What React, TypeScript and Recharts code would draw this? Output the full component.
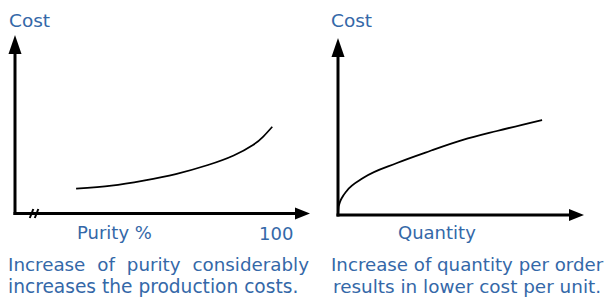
import React from 'react'
import { LineChart, Line, XAxis, YAxis, ReferenceDot } from 'recharts'

// left panel: purity vs cost (x axis starts after a break)
const purity = [69.5, 75, 80, 85, 90, 94, 97, 98.6, 100]
const purityCost = [15.4, 17.3, 20.4, 24.4, 30, 35.9, 42.4, 47.6, 53.7]
const purityTicks = [100]

// right panel: quantity vs cost
const quantity = [0, 0.2, 0.45, 0.85, 1.7, 3.8, 10.7, 25.2, 39.3, 53.4, 67.9, 87.2]
const quantityCost = [0, 4.6, 6.3, 8.2, 10.8, 15.2, 23.1, 32.5, 40, 46.9, 52.5, 59.4]

const purityData = purity.map((x, i) => ({ x, cost: purityCost[i] }))
const quantityData = quantity.map((x, i) => ({ x, cost: quantityCost[i] }))

const BLUE = '#3468a8'
const FONT = '"DejaVu Sans", "Noto Sans", sans-serif'

const axisLine = { stroke: '#000', strokeWidth: 3, strokeLinecap: 'square' as const }

const ArrowRight = (p: any) => (
  <polygon points={`${p.cx - 3},${p.cy - 6} ${p.cx + 12},${p.cy} ${p.cx - 3},${p.cy + 6}`} fill="#000" />
)
const ArrowUp = (p: any) => (
  <polygon points={`${p.cx - 6.5},${p.cy + 2} ${p.cx},${p.cy - 17} ${p.cx + 6.5},${p.cy + 2}`} fill="#000" />
)
const Break = (p: any) => (
  <g stroke="#000" strokeWidth={2}>
    <line x1={p.cx - 4.5} y1={p.cy + 4.5} x2={p.cx - 1} y2={p.cy - 4.5} />
    <line x1={p.cx + 0.5} y1={p.cy + 4.5} x2={p.cx + 4} y2={p.cy - 4.5} />
  </g>
)

const text = (left: number, top: number, s: string, extra: React.CSSProperties = {}) => (
  <div style={{ position: 'absolute', left, top, color: BLUE, fontSize: 18, lineHeight: '22px', whiteSpace: 'nowrap', ...extra }}>
    {s}
  </div>
)

export default function App() {
  return (
    <div style={{ position: 'absolute', left: 0, top: 0, width: 604, height: 299, background: '#fff', fontFamily: FONT, overflow: 'hidden' }}>
      <div style={{ position: 'absolute', left: 0, top: 0 }}>
        <LineChart width={310} height={299} data={purityData} margin={{ top: 52, right: 12, left: 14, bottom: 55.5 }}>
          <XAxis
            dataKey="x"
            type="number"
            domain={[60, 104]}
            ticks={purityTicks}
            tickLine={false}
            axisLine={axisLine}
            tick={{ fill: BLUE, fontSize: 18, fontFamily: FONT, dx: 4 }}
            tickMargin={8}
            height={30}
            allowDataOverflow
          />
          <YAxis type="number" domain={[0, 100]} tick={false} tickLine={false} axisLine={axisLine} width={1} />
          <Line dataKey="cost" type="natural" stroke="#000" strokeWidth={1.7} dot={false} isAnimationActive={false} />
          <ReferenceDot x={104} y={0} ifOverflow="visible" shape={ArrowRight} />
          <ReferenceDot x={60} y={100} ifOverflow="visible" shape={ArrowUp} />
          <ReferenceDot x={63} y={0} ifOverflow="visible" shape={Break} />
        </LineChart>
      </div>
      <div style={{ position: 'absolute', left: 300, top: 0 }}>
        <LineChart width={304} height={299} data={quantityData} margin={{ top: 55, right: 32, left: 37, bottom: 83 }}>
          <XAxis dataKey="x" type="number" domain={[0, 100]} tick={false} tickLine={false} axisLine={axisLine} height={1} />
          <YAxis type="number" domain={[0, 100]} tick={false} tickLine={false} axisLine={axisLine} width={1} />
          <Line dataKey="cost" type="monotone" stroke="#000" strokeWidth={1.8} dot={false} isAnimationActive={false} />
          <ReferenceDot x={100} y={0} ifOverflow="visible" shape={ArrowRight} />
          <ReferenceDot x={0} y={100} ifOverflow="visible" shape={ArrowUp} />
        </LineChart>
      </div>

      {text(9, 10, 'Cost', { fontSize: 18.5 })}
      {text(331, 10, 'Cost', { fontSize: 18.5 })}
      {text(77, 222, 'Purity %')}
      {text(398, 222, 'Quantity')}

      {text(8, 254, 'Increase of purity considerably', { width: 301, fontSize: 18.3, textAlign: 'justify', textAlignLast: 'justify' })}
      {text(8, 276, 'increases the production costs.', { fontSize: 18.6 })}
      {text(331, 254, 'Increase of quantity per order', { fontSize: 18.2 })}
      {text(333, 276, 'results in lower cost per unit.', { fontSize: 18.4 })}
    </div>
  )
}
